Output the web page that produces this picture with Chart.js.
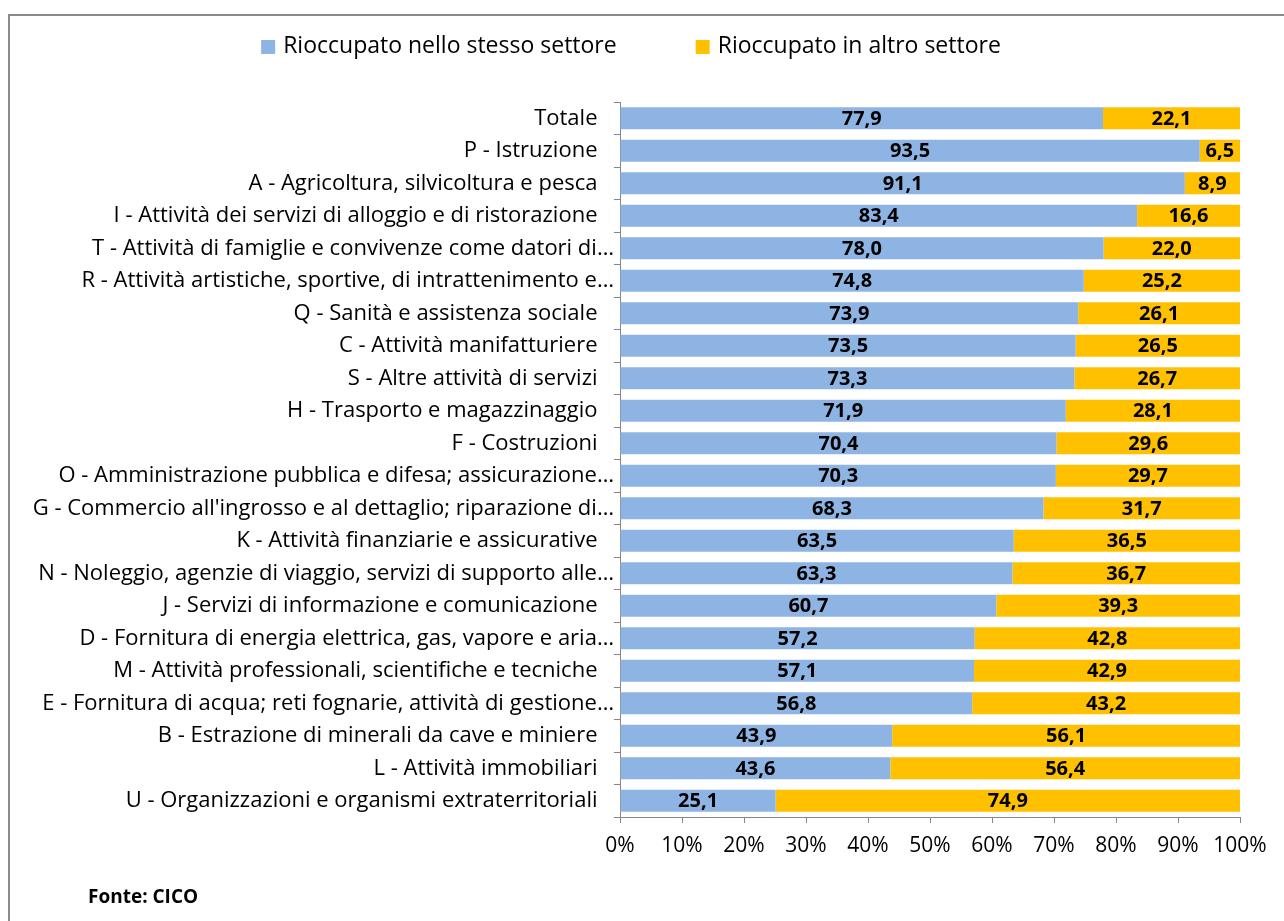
<!DOCTYPE html>
<html><head><meta charset="utf-8">
<script src="https://cdn.jsdelivr.net/npm/chart.js@4.4.0/dist/chart.umd.min.js"></script>
<style>
html,body{margin:0;padding:0;background:#fff;overflow:hidden}
#frame{position:absolute;left:8px;top:14px;width:1400px;height:1000px;border:2px solid #8a8a8a;box-sizing:border-box}
#wrap{position:absolute;left:0;top:0;width:1284px;height:921px}
</style></head><body>
<div id="frame"></div>
<div id="wrap"><canvas id="c" width="1284" height="921"></canvas></div>
<script>
const categories = [
  'Totale',
  'P - Istruzione',
  'A - Agricoltura, silvicoltura e pesca',
  'I - Attività dei servizi di alloggio e di ristorazione',
  'T - Attività di famiglie e convivenze come datori di…',
  'R - Attività artistiche, sportive, di intrattenimento e…',
  'Q - Sanità e assistenza sociale',
  'C - Attività manifatturiere',
  'S - Altre attività di servizi',
  'H - Trasporto e magazzinaggio',
  'F - Costruzioni',
  'O - Amministrazione pubblica e difesa; assicurazione…',
  "G - Commercio all'ingrosso e al dettaglio; riparazione di…",
  'K - Attività finanziarie e assicurative',
  'N - Noleggio, agenzie di viaggio, servizi di supporto alle…',
  'J - Servizi di informazione e comunicazione',
  'D - Fornitura di energia elettrica, gas, vapore e aria…',
  'M - Attività professionali, scientifiche e tecniche',
  'E - Fornitura di acqua; reti fognarie, attività di gestione…',
  'B - Estrazione di minerali da cave e miniere',
  'L - Attività immobiliari',
  'U - Organizzazioni e organismi extraterritoriali'
];
const sameSector = [77.9, 93.5, 91.1, 83.4, 78.0, 74.8, 73.9, 73.5, 73.3, 71.9, 70.4, 70.3, 68.3, 63.5, 63.3, 60.7, 57.2, 57.1, 56.8, 43.9, 43.6, 25.1];
const otherSector = [22.1, 6.5, 8.9, 16.6, 22.0, 25.2, 26.1, 26.5, 26.7, 28.1, 29.6, 29.7, 31.7, 36.5, 36.7, 39.3, 42.8, 42.9, 43.2, 56.1, 56.4, 74.9];
const seriesNames = ['Rioccupato nello stesso settore', 'Rioccupato in altro settore'];
const seriesColors = ['#8EB4E3', '#FFC000'];
const xTickLabels = ['0%','10%','20%','30%','40%','50%','60%','70%','80%','90%','100%'];
const sourceNote = 'Fonte: CICO';

const FONT = '"Open Sans"';
const AXIS = '#868686';

const labelPlugin = {
  id: 'valueLabels',
  afterDatasetsDraw(chart) {
    const ctx = chart.ctx;
    ctx.save();
    ctx.font = 'bold 20px ' + FONT;
    ctx.fillStyle = '#000';
    ctx.textAlign = 'center';
    ctx.textBaseline = 'middle';
    chart.data.datasets.forEach((ds, di) => {
      const meta = chart.getDatasetMeta(di);
      meta.data.forEach((el, i) => {
        const cx = (el.x + el.base) / 2;
        ctx.fillText(ds.data[i].toFixed(1).replace('.', ','), cx, el.y + 1);
      });
    });
    ctx.restore();
  }
};

const legendPlugin = {
  id: 'customLegend',
  afterDraw(chart) {
    const ctx = chart.ctx;
    ctx.save();
    ctx.font = '23px ' + FONT;
    ctx.textBaseline = 'middle';
    ctx.textAlign = 'left';
    const box = 14, gapBox = 8, gapItem = 79;
    const widths = seriesNames.map(n => ctx.measureText(n).width);
    const total = widths.reduce((a, w) => a + box + gapBox + w, 0) + gapItem;
    let x = 631 - total / 2;
    const y = 46;
    seriesNames.forEach((n, i) => {
      ctx.fillStyle = seriesColors[i];
      ctx.fillRect(x, y - 6, box, box);
      ctx.fillStyle = '#000';
      ctx.fillText(n, x + box + gapBox, y);
      x += box + gapBox + widths[i] + gapItem;
    });
    ctx.font = 'bold 19px ' + FONT;
    ctx.fillText(sourceNote, 88, 898);
    ctx.restore();
  }
};

new Chart(document.getElementById('c'), {
  type: 'bar',
  data: {
    labels: categories,
    datasets: [
      { label: seriesNames[0], data: sameSector, backgroundColor: seriesColors[0], borderWidth: 0, barPercentage: 0.68, categoryPercentage: 1 },
      { label: seriesNames[1], data: otherSector, backgroundColor: seriesColors[1], borderWidth: 0, barPercentage: 0.68, categoryPercentage: 1 }
    ]
  },
  options: {
    indexAxis: 'y',
    responsive: false,
    animation: false,
    layout: { padding: { top: 102, right: 44, bottom: 0, left: 0 } },
    plugins: { legend: { display: false }, tooltip: { enabled: false } },
    scales: {
      x: {
        stacked: true, min: 0, max: 100,
        ticks: { stepSize: 10, autoSkip: false, maxRotation: 0, padding: 10,
          callback: (v, i) => xTickLabels[i], font: { family: FONT, size: 21 }, color: '#000' },
        grid: { drawOnChartArea: false, drawTicks: true, tickLength: 6, color: AXIS },
        border: { color: AXIS, width: 1 },
        afterFit(s) { s.height = 104; }
      },
      y: {
        stacked: true,
        ticks: { autoSkip: false, padding: 0, font: { family: FONT, size: 22 }, color: '#000',
          callback: (v, i) => categories[i].endsWith('…') ? categories[i] : categories[i] + '\u2002\u2005' },
        grid: { drawOnChartArea: false, drawTicks: true, tickLength: 6, color: AXIS, offset: true },
        border: { color: AXIS, width: 1 },
        afterFit(s) { s.width = 620; }
      }
    }
  },
  plugins: [labelPlugin, legendPlugin]
});
</script>
</body></html>
